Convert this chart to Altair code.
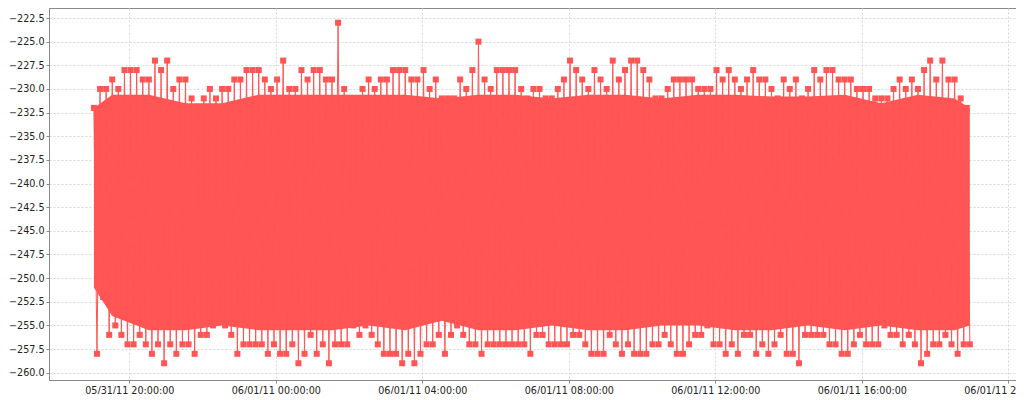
import altair as alt
import pandas as pd

# upper envelope (max value) of each 10-minute bucket
hi = [-232,-230,-230,-229,-230,-228,-228,-228,-229,-229,-227,-228,-227,-230,-229,-229,
      -231,-232,-231,-230,-231,-230,-230,-229,-229,-228,-228,-228,-229,-230,-229,-227,
      -230,-230,-228,-229,-228,-228,-229,-229,-223,-230,-231,-231,-230,-229,-230,-229,
      -229,-228,-228,-228,-229,-229,-228,-230,-229,-231,-231,-231,-229,-230,-228,-225,
      -229,-230,-228,-228,-228,-228,-230,-231,-230,-230,-231,-231,-230,-229,-227,-228,
      -229,-230,-228,-229,-230,-227,-229,-228,-227,-227,-228,-229,-231,-231,-230,-229,
      -229,-229,-229,-230,-230,-230,-228,-229,-228,-229,-230,-229,-228,-229,-229,-230,
      -231,-229,-230,-229,-231,-230,-228,-229,-228,-228,-229,-229,-229,-230,-230,-230,
      -231,-231,-231,-230,-229,-230,-229,-230,-228,-227,-229,-227,-229,-229,-231,-232]

# lower envelope (min value) of each 10-minute bucket
lo = [-258,-252,-256,-255,-256,-257,-257,-256,-257,-258,-257,-259,-257,-258,-257,-257,
      -258,-256,-256,-255,-254,-255,-256,-258,-257,-257,-257,-257,-258,-257,-258,-258,
      -257,-259,-258,-256,-258,-257,-259,-257,-257,-257,-255,-256,-255,-256,-257,-258,
      -258,-258,-259,-258,-259,-258,-257,-257,-256,-258,-256,-255,-256,-257,-257,-258,
      -257,-257,-257,-257,-257,-257,-257,-258,-256,-256,-257,-257,-257,-257,-256,-256,
      -257,-258,-258,-258,-256,-257,-258,-257,-258,-258,-258,-257,-257,-256,-257,-258,
      -258,-257,-256,-256,-255,-257,-257,-258,-257,-258,-256,-256,-258,-257,-258,-257,
      -256,-258,-258,-259,-256,-256,-256,-256,-257,-257,-258,-258,-257,-256,-257,-257,
      -257,-255,-256,-256,-257,-256,-257,-259,-258,-257,-257,-256,-257,-258,-257,-257]

# solid core of the band (start, hourly centres, end)
core_top = [-232,
            -230.6,-230.6,-231.5,-231.5,-230.6,-230.6,-230.6,-230.6,
            -230.6,-231,-230.6,-230.6,-231,-230.6,-230.6,-231,
            -230.6,-230.6,-230.8,-230.8,-230.6,-231.5,-230.6,-231,
            -232]
core_bottom = [-251,
               -254,-255.5,-255.5,-255,-255.5,-255.5,-255.5,-255,
               -255.5,-254.5,-255.5,-255.5,-255,-255.5,-255.5,-255,
               -255,-255.5,-255.5,-255,-255.5,-255,-255.5,-255.5,
               -255]

y_ticks = [-222.5,-225.0,-227.5,-230.0,-232.5,-235.0,-237.5,-240.0,-242.5,
           -245.0,-247.5,-250.0,-252.5,-255.0,-257.5,-260.0]

START = pd.Timestamp("2011-05-31 19:02:00")
rows = []
for k, (h, l) in enumerate(zip(hi, lo)):
    rows.append({"t": START + pd.Timedelta(minutes=10 * k), "v": h, "o": 2 * k})
    rows.append({"t": START + pd.Timedelta(minutes=10 * k + 5), "v": l, "o": 2 * k + 1})
series = pd.DataFrame(rows)

core_t = ([START] + [START + pd.Timedelta(minutes=30 + 60 * i) for i in range(24)]
          + [START + pd.Timedelta(minutes=1435)])
core = pd.DataFrame({"t": core_t, "top": core_top, "bottom": core_bottom})

RED = "#FF5555"

def dt(mo, d, h, mi=0, s=0):
    return alt.DateTime(year=2011, month=mo, date=d, hours=h, minutes=mi, seconds=s)

x_ticks = [dt(5, 31, 20), dt(6, 1, 0), dt(6, 1, 4), dt(6, 1, 8),
           dt(6, 1, 12), dt(6, 1, 16), dt(6, 1, 20)]

xscale = alt.Scale(domain=[dt(5, 31, 17, 48, 24), dt(6, 1, 20, 12, 36)])
yscale = alt.Scale(domain=[-260.77, -221.44], nice=False, zero=False)

xaxis = alt.Axis(values=x_ticks, format="%m/%d/%y %H:%M:%S", title=None,
                 labelOverlap=False, labelFlush=False)
yaxis = alt.Axis(values=y_ticks, format=".1f", title=None)

area = alt.Chart(core).mark_area(color=RED, opacity=1, interpolate="linear").encode(
    x=alt.X("t:T", scale=xscale, axis=xaxis),
    y=alt.Y("top:Q", scale=yscale, axis=yaxis),
    y2="bottom:Q",
)

line = alt.Chart(series).mark_line(
    color=RED, strokeWidth=1,
    point=alt.OverlayMarkDef(shape="square", size=36, filled=True, color=RED, opacity=1),
).encode(
    x=alt.X("t:T", scale=xscale, axis=xaxis),
    y=alt.Y("v:Q", scale=yscale, axis=yaxis),
    order="o:Q",
)

chart = (
    alt.layer(area, line)
    .properties(width=967, height=372,
                autosize=alt.AutoSizeParams(type="none"),
                padding={"left": 41, "top": 0, "right": 0, "bottom": 14})
    .configure_view(stroke="#888888", strokeWidth=1)
    .configure_axis(
        domainColor="#888888", tickColor="#888888", tickSize=3,
        labelFont="DejaVu Sans", labelFontSize=9.6, labelColor="#222222",
        labelPadding=2,
        gridColor="#d6d6d6", gridDash=[2, 2], gridWidth=1,
    )
)

chart.save("out.html", embed_options={"renderer": "svg", "actions": False})
